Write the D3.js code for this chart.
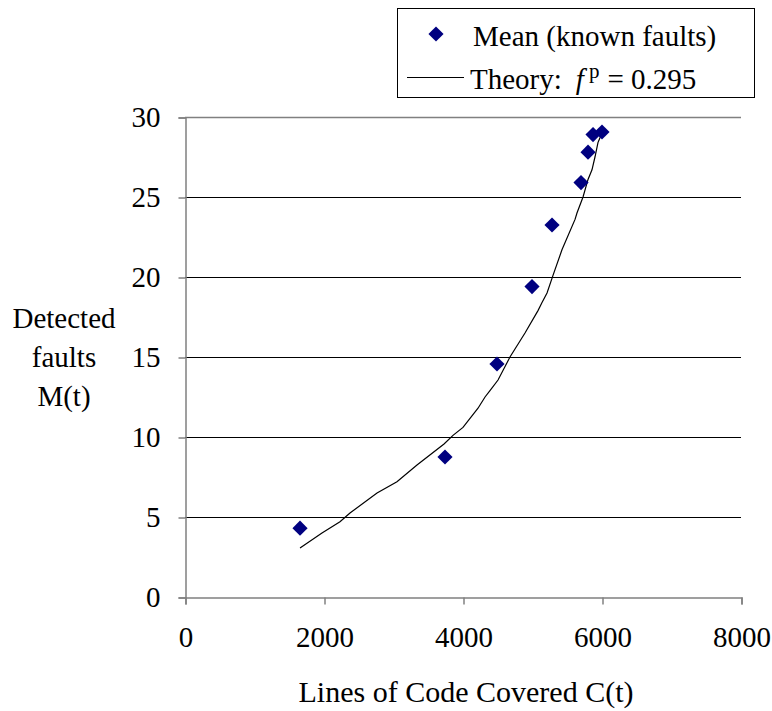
<!DOCTYPE html>
<html>
<head>
<meta charset="utf-8">
<script src="https://cdn.jsdelivr.net/npm/d3@7"></script>
<style>
  html, body { margin: 0; padding: 0; background: #fff; }
  svg { display: block; font-family: "Liberation Serif", "Times New Roman", serif; }
</style>
</head>
<body>
<svg id="chart" width="772" height="711"></svg>
<script>
// Observed means (known faults)
const meanX = [1655, 3741, 4489, 4993, 5281, 5698, 5799, 5871, 6000];
const meanY = [4.3, 8.75, 14.56, 19.4, 23.25, 25.9, 27.8, 28.9, 29.06];

// Theory curve (f^p = 0.295)
const theoryX = [1655, 1971, 2230, 2374, 2763, 3050, 3338, 3727, 3856, 4000, 4216, 4317, 4388, 4504, 4676, 4820, 4892, 5079, 5137, 5209, 5295, 5424, 5612, 5640, 5727, 5799, 5856, 5899, 5942, 5971, 6000];
const theoryY = [3.06, 4.0, 4.7, 5.25, 6.5, 7.2, 8.25, 9.56, 10.1, 10.6, 11.8, 12.5, 12.9, 13.56, 15.0, 16.0, 16.5, 17.9, 18.4, 19.0, 20.1, 21.7, 23.6, 24.0, 25.0, 26.1, 26.7, 27.5, 28.4, 28.7, 29.05];

const xTicks = [0, 2000, 4000, 6000, 8000];
const yTicks = [0, 5, 10, 15, 20, 25, 30];

const legendLabels = ["Mean (known faults)", "Theory:"];
const yTitle = ["Detected", "faults", "M(t)"];
const xTitle = "Lines of Code Covered C(t)";

const svg = d3.select("#chart");
const FS = 29;
const FF = "Liberation Serif, Times New Roman, serif";

const x = d3.scaleLinear().domain([0, 8000]).range([185, 741]);
const y = d3.scaleLinear().domain([0, 30]).range([597, 117]);

// Gridlines
svg.append("g").selectAll("line").data(yTicks.filter(d => d > 0)).join("line")
  .attr("x1", x(0)).attr("x2", x(8000))
  .attr("y1", d => y(d) + 0.5).attr("y2", d => y(d) + 0.5)
  .attr("stroke", d => d === 30 ? "#808080" : "#000")
  .attr("stroke-width", d => d === 30 ? 1.5 : 1);

// Y axis
const yAxis = svg.append("g").attr("transform", `translate(${x(0) + 0.5},0.5)`)
  .call(d3.axisLeft(y).tickValues(yTicks).tickSize(7).tickPadding(18).tickFormat(d3.format("d")));
// X axis
const xAxis = svg.append("g").attr("transform", `translate(0.5,${y(0) + 0.5})`)
  .call(d3.axisBottom(x).tickValues(xTicks).tickSize(7).tickPadding(22).tickFormat(d3.format("d")));

[yAxis, xAxis].forEach(g => {
  g.attr("font-family", FF);
  g.selectAll("path.domain").attr("stroke", "#808080").attr("stroke-width", 1.5);
  g.selectAll(".tick line").attr("stroke", "#808080").attr("stroke-width", 1.5);
  g.selectAll(".tick text").attr("fill", "#000").attr("font-size", FS).attr("font-family", FF);
});

// Theory line
const line = d3.line().x(d => x(d[0])).y(d => y(d[1]));
svg.append("path")
  .datum(theoryX.map((v, i) => [v, theoryY[i]]))
  .attr("d", line).attr("fill", "none").attr("stroke", "#000").attr("stroke-width", 1.2);

// Markers
const diamond = d3.symbol().type(d3.symbolSquare).size(115);
svg.append("g").selectAll("path").data(meanX.map((v, i) => [v, meanY[i]])).join("path")
  .attr("d", diamond)
  .attr("transform", d => `translate(${x(d[0])},${y(d[1])}) rotate(45)`)
  .attr("fill", "#000080");

// Y title
svg.append("g").selectAll("text").data(yTitle).join("text")
  .attr("x", 64).attr("y", (d, i) => 328 + i * 39)
  .attr("text-anchor", "middle").attr("font-size", FS).attr("font-family", FF).text(d => d);

// X title
svg.append("text").attr("x", 466).attr("y", 702).attr("text-anchor", "middle")
  .attr("font-size", 30).attr("font-family", FF).text(xTitle);

// Legend
const lg = svg.append("g").attr("font-family", FF);
lg.append("rect").attr("x", 397.5).attr("y", 8.5).attr("width", 357).attr("height", 89)
  .attr("fill", "#fff").attr("stroke", "#000").attr("stroke-width", 1);
lg.append("path").attr("d", diamond).attr("transform", "translate(436,34) rotate(45)").attr("fill", "#000080");
lg.append("text").attr("x", 473).attr("y", 46).attr("font-size", FS).text(legendLabels[0]);
lg.append("line").attr("x1", 407).attr("x2", 464).attr("y1", 77.5).attr("y2", 77.5)
  .attr("stroke", "#000").attr("stroke-width", 1.2);
const t2 = lg.append("text").attr("x", 470).attr("y", 89).attr("font-size", FS);
t2.append("tspan").text(legendLabels[1]);
t2.append("tspan").attr("dx", 14).attr("font-style", "italic").text("f");
t2.append("tspan").attr("dx", 5).attr("dy", -11).attr("font-size", 21).text("p");
t2.append("tspan").attr("dy", 11).attr("dx", 8).text("= 0.295");
</script>
</body>
</html>
